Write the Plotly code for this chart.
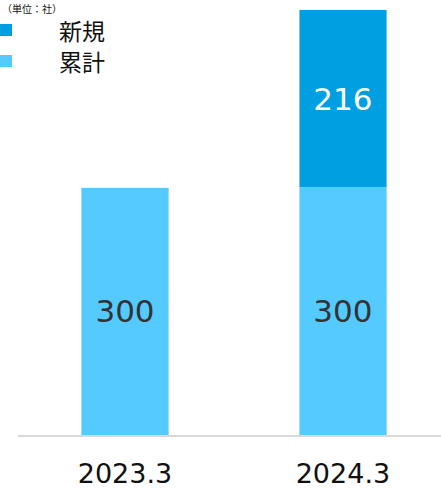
import plotly.graph_objects as go

categories = ["2023.3", "2024.3"]
cumulative = [300, 300]   # 累計
new = [None, 216]         # 新規

c_cum = "#55CAFF"
c_new = "#009FE1"
font_family = "DejaVu Sans, Noto Sans CJK JP, sans-serif"

fig = go.Figure()
fig.add_trace(go.Bar(
    x=categories, y=cumulative, name="累計", marker_color=c_cum,
    texttemplate="%{y}", textposition="inside",
    insidetextanchor="middle", textfont=dict(size=31, color="#333333"),
    width=0.4,
))
fig.add_trace(go.Bar(
    x=categories, y=new, name="新規", marker_color=c_new,
    texttemplate="%{y}", textposition="inside",
    insidetextanchor="middle", textfont=dict(size=31, color="white"),
    width=0.4,
))

fig.update_layout(
    barmode="stack",
    width=441, height=488,
    margin=dict(l=18, r=0, t=0, b=53),
    paper_bgcolor="white", plot_bgcolor="white",
    showlegend=False,
    font=dict(family=font_family, color="#111111"),
    uniformtext=dict(mode=False),
)
fig.update_xaxes(
    range=[-0.491, 1.45], showgrid=False, showline=True,
    linecolor="#d9d9d9", linewidth=2,
    tickfont=dict(size=27, color="#111111"),
    ticks="outside", ticklen=14, tickcolor="rgba(0,0,0,0)",
)
fig.update_yaxes(range=[0, 528], visible=False)

# legend drawn as squares plus labels
legend_items = [("新規", c_new, 30), ("累計", c_cum, 61)]
for label, color, ypx in legend_items:
    fig.add_shape(type="rect", xref="paper", yref="paper",
                  x0=-18 / 423, x1=-6 / 423,
                  y0=1 - (ypx + 6) / 435, y1=1 - (ypx - 6) / 435,
                  fillcolor=color, line_width=0)
    fig.add_annotation(text=label, xref="paper", yref="paper",
                       x=39 / 423, y=1 - ypx / 435, xanchor="left", yanchor="middle",
                       showarrow=False, font=dict(size=23, family="Noto Sans CJK JP", color="#111111"))

fig.add_annotation(text="（単位：社）", xref="paper", yref="paper",
                   x=-18 / 423, y=1, xanchor="left", yanchor="top", yshift=1,
                   showarrow=False, font=dict(size=10, family="Noto Sans CJK JP", color="#111111"))

fig.write_html("out.html")
